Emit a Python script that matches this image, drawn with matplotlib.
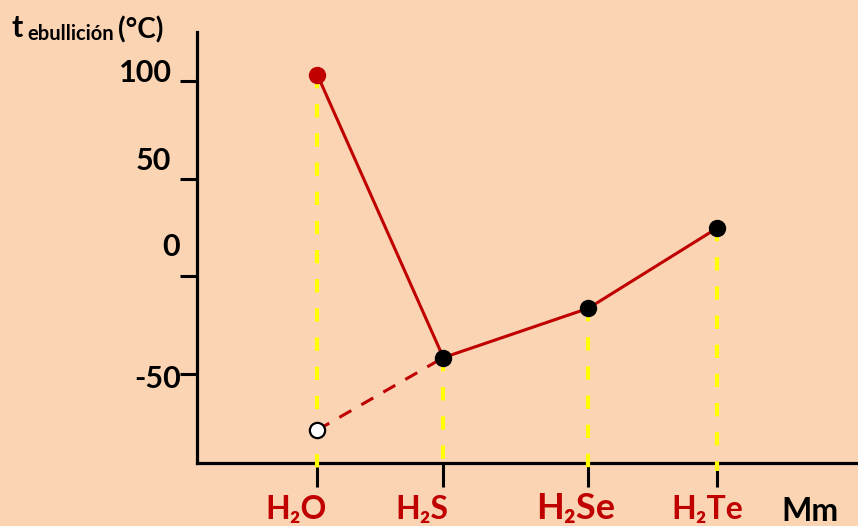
import matplotlib
matplotlib.use("Agg")
import matplotlib.pyplot as plt

# Boiling points of the group-16 hydrides
compounds = ["H₂O", "H₂S", "H₂Se", "H₂Te"]
mass_pos = [1.0, 2.0, 3.15, 4.17]
t_boil = [103, -41.5, -16.3, 24.6]
t_h2o_expected = -78.5
y_ticks = [100, 50, 0, -50]
y_tick_labels = ["100", "50", "0", "-50"]

BG = "#FAD4B3"
RED = "#C00000"
YELLOW = "#FFFF00"
FONT = ["Lato", "DejaVu Sans"]

W, H = 858, 526
fig = plt.figure(figsize=(W / 100, H / 100), dpi=100, facecolor=BG)


def px(x, y):
    return x / W, 1 - y / H


ax = fig.add_axes([197 / W, (H - 462.5) / H, (W - 197) / W, (462.5 - 32) / H])
ax.set_facecolor(BG)
ax.set_xlim(0.045, 5.29)
ax.set_ylim(-95.1, 124.9)

for s in ("top", "right"):
    ax.spines[s].set_visible(False)
for s in ("left", "bottom"):
    ax.spines[s].set_linewidth(2.3)
    ax.spines[s].set_color("black")

ax.set_yticks(y_ticks)
ax.set_yticklabels([])
ax.tick_params(axis="y", direction="out", length=12, width=2.2, color="black")
ax.set_xticks(mass_pos)
ax.set_xticklabels([])
ax.tick_params(axis="x", direction="out", length=17, width=2.2, color="black")

# yellow drop lines from every point to the mass axis
y_floor = -99.5
for xp, t in zip(mass_pos, t_boil):
    ax.plot([xp, xp], [t, y_floor], color=YELLOW, lw=3, dashes=(3.2, 3.8),
            clip_on=False, zorder=4)

# measured boiling points
ax.plot(mass_pos, t_boil, color=RED, lw=2.2, zorder=5, solid_capstyle="butt")
# extrapolated value for water
ax.plot([mass_pos[0], mass_pos[1]], [t_h2o_expected, t_boil[1]], color=RED,
        lw=2.2, dashes=(4.5, 3.8), zorder=5)

ax.plot(mass_pos[0], t_boil[0], "o", ms=11.5, color=RED, mec=RED, zorder=6,
        clip_on=False)
ax.plot(mass_pos[1:], t_boil[1:], "o", ms=11.5, color="black", mec="black",
        zorder=6)
ax.plot(mass_pos[0], t_h2o_expected, "o", ms=11, mfc="white", mec="black",
        mew=1.6, zorder=6)

# y-axis title
fig.text(*px(12, 37), "t", fontsize=22, fontweight="bold", family=FONT,
         ha="left", va="baseline")
fig.text(*px(27, 40), "ebullición", fontsize=14.5, fontweight="bold",
         family=FONT, ha="left", va="baseline")
fig.text(*px(118, 38), "(°C)", fontsize=20, fontweight="bold", family=FONT,
         ha="left", va="baseline")

# y tick labels
label_xy = [(172, 70), (171, 158), (180, 245), (181, 376)]
for (lx, ly), lab in zip(label_xy, y_tick_labels):
    fig.text(*px(lx, ly), lab, fontsize=22, fontweight="bold", family=FONT,
             ha="right", va="center_baseline")

# compound labels under the axis
label_x = [296, 422, 576, 707]
label_size = [23, 23, 26, 23]
for lx, lab, fs in zip(label_x, compounds, label_size):
    fig.text(*px(lx, 519), lab, fontsize=fs, fontweight="bold", family=FONT,
             color=RED, ha="center", va="baseline")
fig.text(*px(810, 521), "Mm", fontsize=23, fontweight="bold", family=FONT,
         color="black", ha="center", va="baseline")

fig.savefig("out.png", dpi=100, facecolor=BG)
